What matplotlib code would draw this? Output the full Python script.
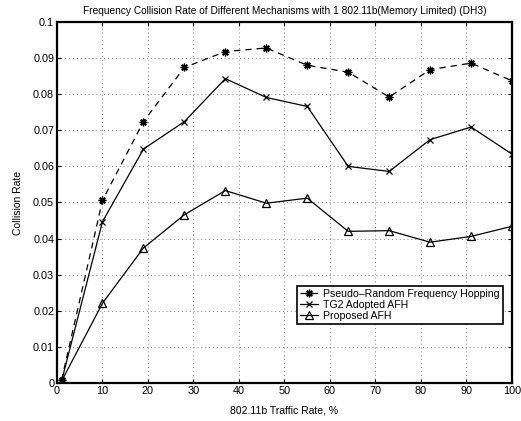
import numpy as np
import matplotlib.pyplot as plt

plt.rcParams['font.family'] = ['Liberation Sans', 'DejaVu Sans']

# traffic rate (%)
traffic = [1, 10, 19, 28, 37, 46, 55, 64, 73, 82, 91, 100]

pseudo_random = [0.0008, 0.0506, 0.0724, 0.0874, 0.0918, 0.0928, 0.0880, 0.0861, 0.0792, 0.0868, 0.0886, 0.0837]
tg2_afh = [0.0005, 0.0447, 0.0648, 0.0724, 0.0843, 0.0791, 0.0766, 0.0600, 0.0586, 0.0674, 0.0709, 0.0634]
proposed_afh = [0.0005, 0.0221, 0.0374, 0.0466, 0.0533, 0.0498, 0.0512, 0.0420, 0.0422, 0.0390, 0.0406, 0.0434]

fig = plt.figure(figsize=(5.21, 4.21), dpi=100)
ax = fig.add_axes([0.1094, 0.0903, 0.8733, 0.8575])

ax.plot(traffic, pseudo_random, color='black', linestyle='--', dashes=(5, 4), linewidth=0.9,
        marker=(8, 2, 0), markersize=5.5, markeredgewidth=1.0, label='Pseudo\u2013Random Frequency Hopping')
ax.plot(traffic, tg2_afh, color='black', linestyle='-', linewidth=0.9,
        marker='x', markersize=4, markeredgewidth=0.9, label='TG2 Adopted AFH')
ax.plot(traffic, proposed_afh, color='black', linestyle='-', linewidth=0.9,
        marker='^', markersize=5.5, markerfacecolor='none', markeredgewidth=0.9, label='Proposed AFH')

ax.set_xlim(0, 100)
ax.set_ylim(0, 0.1)
ax.set_xticks(np.arange(0, 101, 10))
ax.set_yticks(np.arange(0, 0.101, 0.01))
ax.set_yticklabels(['0', '0.01', '0.02', '0.03', '0.04', '0.05', '0.06', '0.07', '0.08', '0.09', '0.1'])
ax.tick_params(direction='in', top=True, right=True, labelsize=7.8, length=3, width=0.8, pad=2)
ax.grid(True, linestyle=(0, (1, 3)), color='gray', linewidth=0.7)
for s in ax.spines.values():
    s.set_linewidth(1.6)

ax.set_xlabel('802.11b Traffic Rate, %', fontsize=7.5, labelpad=7)
ax.set_ylabel('Collision Rate', fontsize=7.5, labelpad=7)
ax.set_title('Frequency Collision Rate of Different Mechanisms with 1 802.11b(Memory Limited) (DH3)',
             fontsize=7.3, pad=6)

leg = ax.legend(loc='lower left', bbox_to_anchor=(0.527, 0.163), fontsize=7.6, fancybox=False,
                framealpha=1, edgecolor='black', borderpad=0.3, labelspacing=0.1,
                handlelength=1.7, handletextpad=0.5, borderaxespad=0)
leg.get_frame().set_linewidth(1.2)

fig.savefig('out.png', dpi=100)
